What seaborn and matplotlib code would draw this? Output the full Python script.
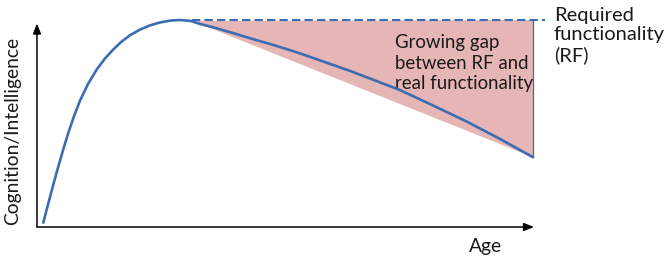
import matplotlib
matplotlib.use("Agg")
import matplotlib.pyplot as plt
import seaborn as sns
import pandas as pd

# ---- data ----
age = [1.27, 2.21, 3.28, 4.23, 5.29, 6.30, 7.44, 8.65, 10.26, 12.01, 13.68, 15.29,
       16.90, 18.71, 20.72, 22.74, 24.75, 26.76, 28.77, 30.8, 32.8, 36.16, 39.4,
       42.86, 47.9, 52.9, 63.0, 73.0, 79.7, 86.5, 93.2, 99.8]
cognition = [2.1, 10.8, 20.4, 28.7, 37.5, 45.4, 53.5, 61.0, 69.05, 76.05, 81.4, 85.6,
             89.3, 92.65, 95.35, 97.4, 98.8, 99.7, 100.0, 99.6, 98.1, 96.0, 93.7,
             91.2, 87.7, 83.9, 75.4, 66.2, 58.7, 50.9, 42.5, 33.7]
rf_age = [31.2, 102.2]
rf_level = [100.0, 100.0]
gap_age = [31.2, 99.8, 99.8]
gap_value = [99.6, 100.0, 33.7]
labels = {
    "y": "Cognition/Intelligence",
    "x": "Age",
    "rf": "Required\nfunctionality\n(RF)",
    "gap": "Growing gap\nbetween RF and\nreal functionality",
}

sns.set_theme(style="white")
plt.rcParams["font.family"] = ["Lato", "DejaVu Sans"]

BLUE = "#3C6DB2"
PINK = "#E6B5B5"
TXT = "#1a1a1a"

fig = plt.figure(figsize=(6.65, 2.64), dpi=100)
ax = fig.add_axes([0, 0, 1, 1])
ax.set_axis_off()
ax.set_xlim(-7.44, 126.36)
ax.set_ylim(-17.87, 109.66)

# gap area
ax.fill(gap_age, gap_value, color=PINK, lw=0, zorder=1)
ax.plot([gap_age[1], gap_age[2]], [gap_value[1], gap_value[2]], color=BLUE, lw=0.9, zorder=2)

# required functionality dashed line
ax.plot(rf_age, rf_level, color=BLUE, lw=1.5, dashes=(4, 2), zorder=3)

# curve
df = pd.DataFrame({"Age": age, "Cognition": cognition})
sns.lineplot(data=df, x="Age", y="Cognition", ax=ax, color=BLUE, lw=1.9,
             sort=False, zorder=4)
for ln in ax.get_lines():
    ln.set_solid_joinstyle("round")
    ln.set_solid_capstyle("round")

# axes with arrows
arrow = dict(arrowstyle="-|>,head_length=0.5,head_width=0.2", color="black", lw=1.1,
             shrinkA=0, shrinkB=0)
ax.annotate("", xy=(100.0, 0), xytext=(0, 0), arrowprops=arrow)
ax.annotate("", xy=(0, 98.3), xytext=(0, 0), arrowprops=arrow)

# text
ax.text(-5.0, 46.5, labels["y"], rotation=90, ha="center", va="center",
        fontsize=13.9, color=TXT)
ax.text(87.0, -9.5, labels["x"], ha="left", va="center", fontsize=13.9, color=TXT)
ax.text(104.0, 106.5, labels["rf"], ha="left", va="top", fontsize=14.5,
        color=TXT, linespacing=1.2)
ax.text(72.0, 93.0, labels["gap"], ha="left", va="top", fontsize=13.4,
        color=TXT, linespacing=1.25)

fig.savefig("out.png", dpi=100, facecolor="white")
